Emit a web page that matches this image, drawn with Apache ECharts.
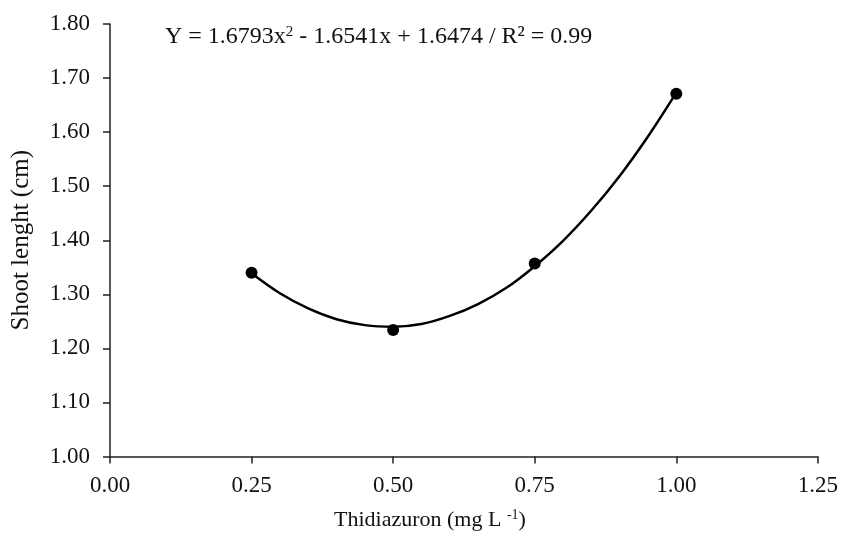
<!DOCTYPE html>
<html>
<head>
<meta charset="utf-8">
<script src="https://cdn.jsdelivr.net/npm/echarts@6/dist/echarts.min.js"></script>
<style>
  html, body { margin: 0; padding: 0; background: #fff; }
  #chart { width: 841px; height: 536px; }
</style>
</head>
<body>
<div id="chart"></div>
<script>
// observed means
const doseX = [0.25, 0.50, 0.75, 1.00]
const shootY = [1.340, 1.234, 1.357, 1.671]

// fitted curve
const curveX = [0.25, 0.30, 0.35, 0.40, 0.45, 0.50, 0.55, 0.60, 0.65, 0.70, 0.75, 0.80, 0.85, 0.90, 0.95, 1.00]
const curveY = [1.339, 1.302, 1.274, 1.254, 1.243, 1.240, 1.245, 1.260, 1.282, 1.312, 1.352, 1.399, 1.455, 1.519, 1.592, 1.673]

const xTicks = ['0.00', '0.25', '0.50', '0.75', '1.00', '1.25']
const yTicks = ['1.00', '1.10', '1.20', '1.30', '1.40', '1.50', '1.60', '1.70', '1.80']

const font = '"Liberation Serif", "Times New Roman", serif'
const chart = echarts.init(document.getElementById('chart'))

// rich text with a superscript part
const sup = (size) => ({
  t: { fontFamily: font, fontSize: size, fontWeight: 'normal', color: '#111' },
  s: { fontFamily: font, fontSize: Math.round(size * 0.62), fontWeight: 'normal', color: '#111', verticalAlign: 'top', padding: [0, 0, 9, 0] }
})

const option = {
  animation: false,
  title: {
    left: 160,
    top: 20,
    text: '{t|Y = 1.6793x}{s|2}{t| - 1.6541x + 1.6474 / R² = 0.99}',
    textStyle: { fontWeight: 'normal', rich: sup(24) }
  },
  grid: {
    left: 110,
    right: 23,
    top: 24,
    bottom: 76
  },
  xAxis: {
    type: 'value',
    min: 0,
    max: 1.25,
    interval: 0.25,
    name: '{t|Thidiazuron (mg L }{s|-1}{t|)}',
    nameLocation: 'middle',
    nameGap: 52,
    nameTextStyle: { rich: sup(22), padding: [0, 68, 0, 0] },
    axisLine: { show: true, lineStyle: { color: '#222', width: 1.5 } },
    axisTick: { show: true, inside: false, length: 7, lineStyle: { color: '#222', width: 1.5 } },
    axisLabel: {
      margin: 18,
      fontFamily: font,
      fontSize: 23,
      color: '#111',
      formatter: (v, i) => xTicks[i]
    },
    splitLine: { show: false }
  },
  yAxis: {
    type: 'value',
    min: 1.0,
    max: 1.8,
    interval: 0.1,
    name: 'Shoot lenght (cm)',
    nameLocation: 'middle',
    nameGap: 76,
    nameTextStyle: { fontFamily: font, fontSize: 25, color: '#111' },
    axisLine: { show: true, lineStyle: { color: '#222', width: 1.5 } },
    axisTick: { show: true, inside: false, length: 7, lineStyle: { color: '#222', width: 1.5 } },
    axisLabel: {
      margin: 20,
      fontFamily: font,
      fontSize: 23,
      color: '#111',
      formatter: (v, i) => yTicks[i]
    },
    splitLine: { show: false }
  },
  series: [
    {
      name: 'fit',
      type: 'line',
      smooth: 0.35,
      showSymbol: false,
      data: curveX.map((x, i) => [x, curveY[i]]),
      lineStyle: { color: '#000', width: 2.5 },
      z: 2
    },
    {
      name: 'observed',
      type: 'scatter',
      symbol: 'circle',
      symbolSize: 12,
      data: doseX.map((x, i) => [x, shootY[i]]),
      itemStyle: { color: '#000', opacity: 1 },
      z: 3
    }
  ]
}

chart.setOption(option)
</script>
</body>
</html>
